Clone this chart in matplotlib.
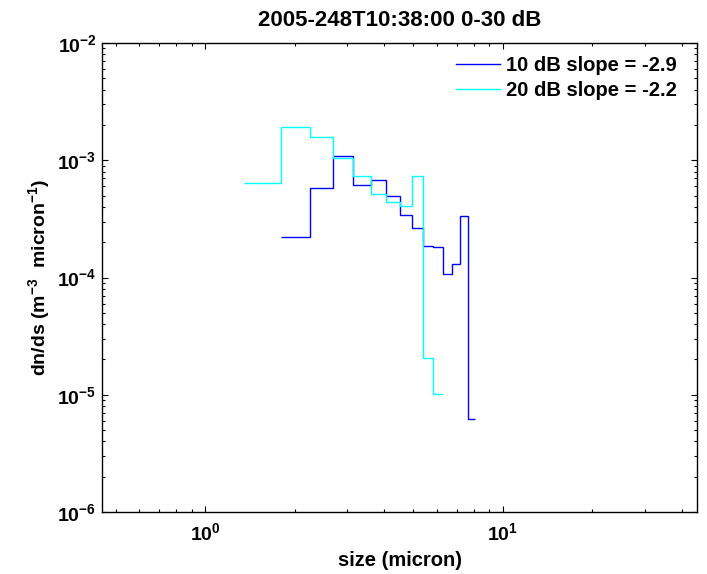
import matplotlib
matplotlib.use("Agg")
import matplotlib.pyplot as plt
from matplotlib.ticker import LogLocator, NullFormatter

plt.rcParams['font.family'] = ['Liberation Sans', 'DejaVu Sans']
plt.rcParams['font.weight'] = 'bold'
plt.rcParams['mathtext.fontset'] = 'custom'
plt.rcParams['mathtext.rm'] = 'Liberation Sans:bold'
plt.rcParams['mathtext.it'] = 'Liberation Sans:bold:italic'
plt.rcParams['mathtext.bf'] = 'Liberation Sans:bold'
plt.rcParams['mathtext.default'] = 'rm'

# Bin edges (micron)
edges_10db = [1.80, 2.25, 2.70, 3.15, 3.60, 4.05, 4.50, 4.95, 5.40, 5.85, 6.30, 6.75, 7.20, 7.65, 8.10]
vals_10db = [2.20e-4, 5.77e-4, 1.087e-3, 6.19e-4, 6.79e-4, 4.96e-4, 3.41e-4, 2.63e-4,
             1.87e-4, 1.81e-4, 1.07e-4, 1.31e-4, 3.34e-4, 6.25e-6]

edges_20db = [1.35, 1.80, 2.25, 2.70, 3.15, 3.60, 4.05, 4.50, 4.95, 5.40, 5.85, 6.30]
vals_20db = [6.36e-4, 1.93e-3, 1.59e-3, 1.035e-3, 7.38e-4, 5.12e-4, 4.38e-4, 4.07e-4,
             7.38e-4, 2.05e-5, 1.02e-5]

labels = ['10 dB slope = -2.9', '20 dB slope = -2.2']
title = '2005-248T10:38:00 0-30 dB'

fig = plt.figure(figsize=(7.07, 5.74), dpi=100)
ax = fig.add_axes([102/707, 1 - 512/574, (697-102)/707, (512-43)/574])

ax.stairs(vals_10db, edges_10db, baseline=None, color='#0000ff', lw=1.0, label=labels[0])
ax.stairs(vals_20db, edges_20db, baseline=None, color='#00ffff', lw=1.0, label=labels[1])

ax.set_xscale('log')
ax.set_yscale('log')
ax.set_xlim(0.45, 45)
ax.set_ylim(1e-6, 1e-2)

ax.xaxis.set_major_locator(LogLocator(base=10, numticks=10))
ax.yaxis.set_major_locator(LogLocator(base=10, numticks=10))
ax.xaxis.set_minor_locator(LogLocator(base=10, subs=range(2, 10), numticks=20))
ax.yaxis.set_minor_locator(LogLocator(base=10, subs=range(2, 10), numticks=20))
ax.xaxis.set_minor_formatter(NullFormatter())
ax.yaxis.set_minor_formatter(NullFormatter())

ax.tick_params(which='both', direction='in', top=True, right=True, labelsize=14, width=0.8)
ax.tick_params(which='major', length=4)
ax.tick_params(which='minor', length=2)
ax.tick_params(axis='x', which='major', pad=7)
ax.tick_params(axis='y', which='major', pad=4)
for s in ax.spines.values():
    s.set_linewidth(1.0)

ax.set_xlabel('size (micron)', fontsize=14.5, fontweight='bold', labelpad=5)
ax.set_ylabel('dn/ds (m$^{-3}$  micron$^{-1}$)', fontsize=14, fontweight='bold', labelpad=4)
ax.set_title(title, fontsize=16, fontweight='bold', pad=12)

leg = ax.legend(loc='upper right', bbox_to_anchor=(1 - 20/595, 1 - 13/469),
                frameon=False, fontsize=14.5, handlelength=2.2,
                handletextpad=0.3, labelspacing=0.3, borderpad=0, borderaxespad=0)

fig.savefig('out.png', dpi=100)
